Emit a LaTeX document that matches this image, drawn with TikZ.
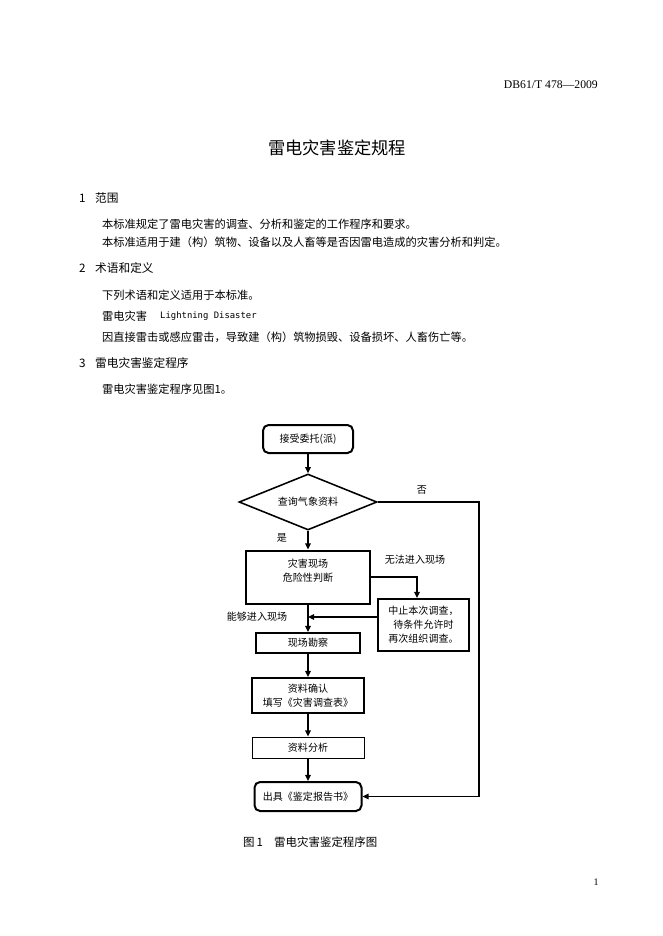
\documentclass[tikz,border=0pt]{standalone}
\usepackage{fontspec}
\setmainfont{Liberation Serif}
\newfontfamily\cjk{Noto Sans CJK SC}
\newfontfamily\monof{DejaVu Sans Mono}
\usetikzlibrary{shapes.geometric,arrows.meta,calc}
\newlength\pxl \setlength\pxl{0.8988pt}
\begin{document}
\begin{tikzpicture}[x=0.8988pt,y=-0.8988pt,
  txt/.style={inner sep=0pt, anchor=west, font=\cjk\fontsize{10.1pt}{12pt}\selectfont},
  head/.style={inner sep=0pt, anchor=west, font=\cjk\fontsize{10.5pt}{12pt}\selectfont},
  fc/.style={inner sep=0pt, align=center, font=\cjk\fontsize{9pt}{12.6pt}\selectfont},
  tbox/.style={fc, draw, line width=1.8pt},
  thinbox/.style={fc, draw, line width=0.8pt},
  rbox/.style={fc, draw, line width=1.8pt, rounded corners=5pt},
  dia/.style={fc, draw, diamond, aspect=2.5, line width=1.4pt},
  arr/.style={line width=1.2pt, -{Triangle[length=5.5pt,width=5pt]}}]
\fill[white] (0,0) rectangle (662,936);
\useasboundingbox (0,0) rectangle (662,936);

% header and title
\node[anchor=east, inner sep=0pt, font=\fontsize{10.5pt}{12pt}\selectfont] (hdr) at (598,85) {DB61/T 478—2009};
\node[inner sep=0pt, font=\cjk\fontsize{15.5pt}{17pt}\selectfont] (title) at (337,148) {雷电灾害鉴定规程};

% section 1
\node[head] (s1n) at (79,198) {1};
\node[head] (s1) at (95,198) {范围};
\node[txt] (p1) at (102,224.5) {本标准规定了雷电灾害的调查、分析和鉴定的工作程序和要求。};
\node[txt] (p2) at (102,242) {本标准适用于建（构）筑物、设备以及人畜等是否因雷电造成的灾害分析和判定。};

% section 2
\node[head] (s2n) at (79,268) {2};
\node[head] (s2) at (95,268) {术语和定义};
\node[txt] (p3) at (102,295) {下列术语和定义适用于本标准。};
\node[txt] (t1) at (102,316) {雷电灾害};
\node[inner sep=0pt, anchor=west, font=\monof\fontsize{8pt}{10pt}\selectfont] (t1e) at (160,316) {Lightning Disaster};
\node[txt] (p4) at (102,337) {因直接雷击或感应雷击，导致建（构）筑物损毁、设备损坏、人畜伤亡等。};

% section 3
\node[head] (s3n) at (79,363) {3};
\node[head] (s3) at (95,363) {雷电灾害鉴定程序};
\node[txt] (p5) at (102,389) {雷电灾害鉴定程序见图1。};

% flowchart
\node[rbox, minimum width=90\pxl, minimum height=28\pxl] (n1) at (308,439) {接受委托(派)};
\node[dia, minimum width=138\pxl, minimum height=56\pxl] (d) at (308,502) {查询气象资料};
\node[tbox, minimum width=124\pxl, minimum height=53\pxl] (b2) at (308,577) {灾害现场\\危险性判断\\~};
\node[tbox, minimum width=91\pxl, minimum height=52\pxl] (b3) at (423.5,625) {中止本次调查，\\待条件允许时\\再次组织调查。};
\node[tbox, minimum width=104\pxl, minimum height=20\pxl] (b4) at (308,643) {现场勘察};
\node[tbox, minimum width=112\pxl, minimum height=35\pxl] (b5) at (308,695.5) {资料确认\\填写《灾害调查表》};
\node[thinbox, minimum width=112\pxl, minimum height=21\pxl] (b6) at (308,747.5) {资料分析};
\node[rbox, minimum width=107\pxl, minimum height=29\pxl] (b7) at (308,796.5) {出具《鉴定报告书》};

\coordinate (rc) at (479,650);
\coordinate (jn) at (308,617);

\draw[arr] (n1) -- (d);
\draw[arr] (d) -- (b2);
\draw[arr] (b2) -- (b4);
\draw[arr] (b4) -- (b5);
\draw[arr] (b5) -- (b6);
\draw[arr] (b6) -- (b7);
\draw[arr] (d.east) -| (rc) |- (b7.east);
\draw[arr] (b2.east) -| ($(b3.north)+(-6.5,0)$);
\draw[arr] ($(b3.west)+(0,-8)$) -- (jn);

\node[fc] (lno) at (422,490) {否};
\node[fc] (lyes) at (282,538) {是};
\node[fc] (lnot) at (415,560) {无法进入现场};
\node[fc] (lcan) at (257,617) {能够进入现场};

% caption
\node[inner sep=0pt, anchor=west, font=\cjk\fontsize{10.3pt}{12pt}\selectfont] (cap1) at (243,842) {图\,1};
\node[inner sep=0pt, anchor=west, font=\cjk\fontsize{10.3pt}{12pt}\selectfont] (cap2) at (274,842) {雷电灾害鉴定程序图};

% page number
\node[inner sep=0pt, font=\fontsize{9pt}{10pt}\selectfont] (pg) at (596,882) {1};
\end{tikzpicture}
\end{document}
